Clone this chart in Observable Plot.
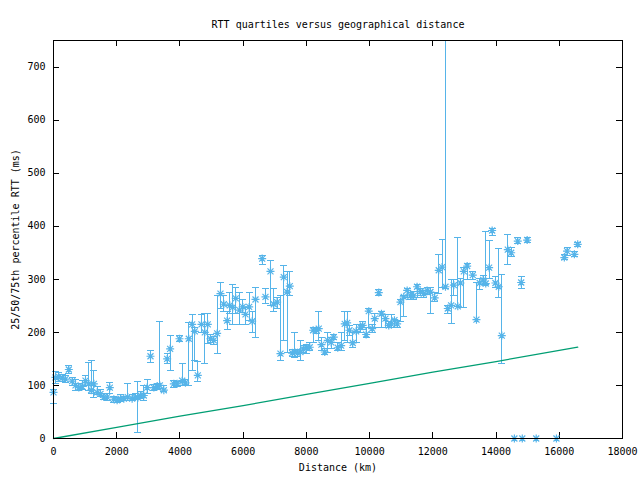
<!DOCTYPE html>
<html>
<head>
<meta charset="utf-8">
<script src="https://cdn.jsdelivr.net/npm/d3@7"></script>
<script src="https://cdn.jsdelivr.net/npm/@observablehq/plot@0.6"></script>
<style>
  html, body { margin: 0; padding: 0; background: #fff; }
  #chart svg { display: block; }
</style>
</head>
<body>
<div id="chart"></div>
<script>
// Distance (km)
const dist = [0,63,168,275,380,485,590,696,800,907,1012,1117,1192,1276,1381,1487,1592,1697,1782,1908,2013,2119,2224,2350,2488,2594,2668,2752,2857,2963,3068,3174,3280,3364,3490,3596,3690,3806,3912,3985,4070,4175,4280,4386,4470,4565,4681,4786,4881,4966,5071,5177,5282,5388,5493,5577,5671,5766,5883,5988,6073,6190,6285,6390,6601,6706,6864,6969,7075,7180,7285,7391,7475,7550,7632,7728,7812,7897,8002,8107,8213,8318,8391,8477,8581,8676,8783,8866,8992,9100,9213,9290,9362,9467,9574,9710,9782,9891,9973,10080,10163,10290,10375,10501,10606,10681,10786,10871,10976,11080,11188,11290,11396,11501,11606,11713,11818,11924,12060,12187,12293,12400,12473,12578,12664,12790,12874,12980,13086,13264,13380,13484,13591,13674,13781,13876,13981,14086,14181,14371,14478,14580,14687,14795,14830,14984,15270,15910,16160,16245,16478,16583];
// Median RTT (ms)
const med = [87,115,116,114,112,130,108,100,96,98,109,103,91,103,87,84,78,78,96,74,72,75,75,78,75,78,77,81,81,96,155,96,98,100,91,150,169,103,103,188,109,105,188,215,202,119,215,200,215,188,185,198,273,253,222,251,247,264,242,248,234,248,221,262,339,267,315,253,257,160,304,276,287,161,163,161,163,169,171,172,204,204,207,177,163,185,181,191,171,175,216,218,204,180,202,210,213,196,240,207,226,275,235,226,213,216,223,216,257,267,279,269,269,286,277,273,279,276,265,317,323,286,245,251,289,249,293,315,325,308,224,293,299,292,322,392,293,286,194,356,350,0,372,294,0,374,0,0,341,353,347,366];
// 25th percentile RTT (ms)
const q1 = [66,104,108,108,106,122,100,90,90,92,100,91,85,78,82,80,74,72,85,68,68,70,71,72,72,74,12,76,72,84,144,90,92,94,88,141,128,96,98,182,100,100,100,128,147,108,200,141,179,180,178,160,245,240,205,235,215,235,215,238,215,222,200,190,328,255,250,240,245,147,185,163,270,155,153,155,147,162,160,166,180,198,185,165,158,163,170,186,165,165,185,180,195,172,180,200,205,190,210,200,210,270,210,210,210,210,210,210,220,230,265,262,262,266,270,266,272,235,258,273,284,283,235,216,270,248,247,247,300,300,224,280,290,290,302,383,285,266,141,328,343,0,368,282,0,370,0,0,337,345,343,362];
// 75th percentile RTT (ms)
const q3 = [93,127,124,121,118,138,115,112,104,110,118,144,147,128,98,92,84,84,106,80,78,82,80,104,82,84,108,88,100,112,166,102,104,220,100,160,194,110,108,194,141,112,219,233,210,145,233,236,236,196,192,270,294,270,240,276,290,285,276,262,247,276,240,285,345,283,335,283,265,270,326,314,314,168,200,168,185,176,178,180,210,210,240,190,170,200,190,196,180,200,240,240,212,200,215,215,220,210,245,215,235,280,240,233,220,233,225,222,262,270,283,275,277,290,282,279,285,285,275,347,375,1000,250,300,300,379,301,323,330,315,294,301,308,390,374,396,305,358,309,384,360,0,378,305,0,378,0,0,347,360,352,370];

// Theoretical minimum RTT line
const lineDist = [0,2000,4000,6000,8000,10000,12000,14000,16000,16583];
const lineMs = [0,21,42,62,83,104,125,145,166,172];

const xTicks = [0,2000,4000,6000,8000,10000,12000,14000,16000,18000];
const yTicks = [0,100,200,300,400,500,600,700];

const title = "RTT quartiles versus geographical distance";
const xLabel = "Distance (km)";
const yLabel = "25/50/75th percentile RTT (ms)";

const pts = dist.map((d, i) => ({dist: d, med: med[i], q1: q1[i], q3: q3[i]}));
const line = lineDist.map((d, i) => ({dist: d, ms: lineMs[i]}));
const inDomain = pts.filter(d => d.q3 <= 750);

const blue = "#56b4e9";
const green = "#009e73";

const star = {draw(ctx) {
  const r = 4, d = 3;
  ctx.moveTo(-r, 0); ctx.lineTo(r, 0);
  ctx.moveTo(0, -r); ctx.lineTo(0, r);
  ctx.moveTo(-d, -d); ctx.lineTo(d, d);
  ctx.moveTo(-d, d); ctx.lineTo(d, -d);
}};
const cap = {draw(ctx) { ctx.moveTo(-3.5, 0); ctx.lineTo(3.5, 0); }};

const W = 640, H = 480, mL = 53, mR = 18, mT = 40, mB = 42;
const pw = W - mL - mR, ph = H - mT - mB, tl = 6;
const font = "DejaVu Sans Mono, monospace";
const crisp = {shapeRendering: "crispEdges"};

const chart = Plot.plot({
  width: W, height: H,
  marginLeft: mL, marginRight: mR, marginTop: mT, marginBottom: mB,
  style: {fontFamily: font, fontSize: "10px", background: "#fff", color: "#000"},
  x: {domain: [0, 18000]},
  y: {domain: [0, 750], clamp: true},
  marks: [
    Plot.axisX(xTicks, {tickSize: 0, tickPadding: 9, tickFormat: d => String(d), label: null, fontSize: 10}),
    Plot.axisY(yTicks, {tickSize: 0, tickPadding: 8, tickFormat: d => String(d), label: null, fontSize: 10}),
    Plot.tickX(xTicks, {x: d => d, insetTop: ph - tl, stroke: "#000", ...crisp}),
    Plot.tickX(xTicks, {x: d => d, insetBottom: ph - tl, stroke: "#000", ...crisp}),
    Plot.tickY(yTicks, {y: d => d, insetRight: pw - tl, stroke: "#000", ...crisp}),
    Plot.tickY(yTicks, {y: d => d, insetLeft: pw - tl, stroke: "#000", ...crisp}),
    Plot.ruleX(pts, {x: "dist", y1: "q1", y2: "q3", stroke: blue, strokeWidth: 1, ...crisp}),
    Plot.dot(pts, {x: "dist", y: "q1", symbol: cap, fill: "none", stroke: blue, strokeWidth: 1, ...crisp}),
    Plot.dot(inDomain, {x: "dist", y: "q3", symbol: cap, fill: "none", stroke: blue, strokeWidth: 1, ...crisp}),
    Plot.dot(pts, {x: "dist", y: "med", symbol: star, fill: "none", stroke: blue, strokeWidth: 1.2}),
    Plot.line(line, {x: "dist", y: "ms", stroke: green, strokeWidth: 1.3}),
    Plot.frame({stroke: "#000", ...crisp}),
    Plot.text([title], {frameAnchor: "top", dy: -20, fontSize: 10, fill: "#000"}),
    Plot.text([xLabel], {frameAnchor: "bottom", dy: 32, fontSize: 10, fill: "#000"}),
    Plot.text([yLabel], {frameAnchor: "left", dx: -38, rotate: -90, textAnchor: "middle", fontSize: 10, letterSpacing: "1.6px", fill: "#000"})
  ]
});
document.getElementById("chart").appendChild(chart);
</script>
</body>
</html>
